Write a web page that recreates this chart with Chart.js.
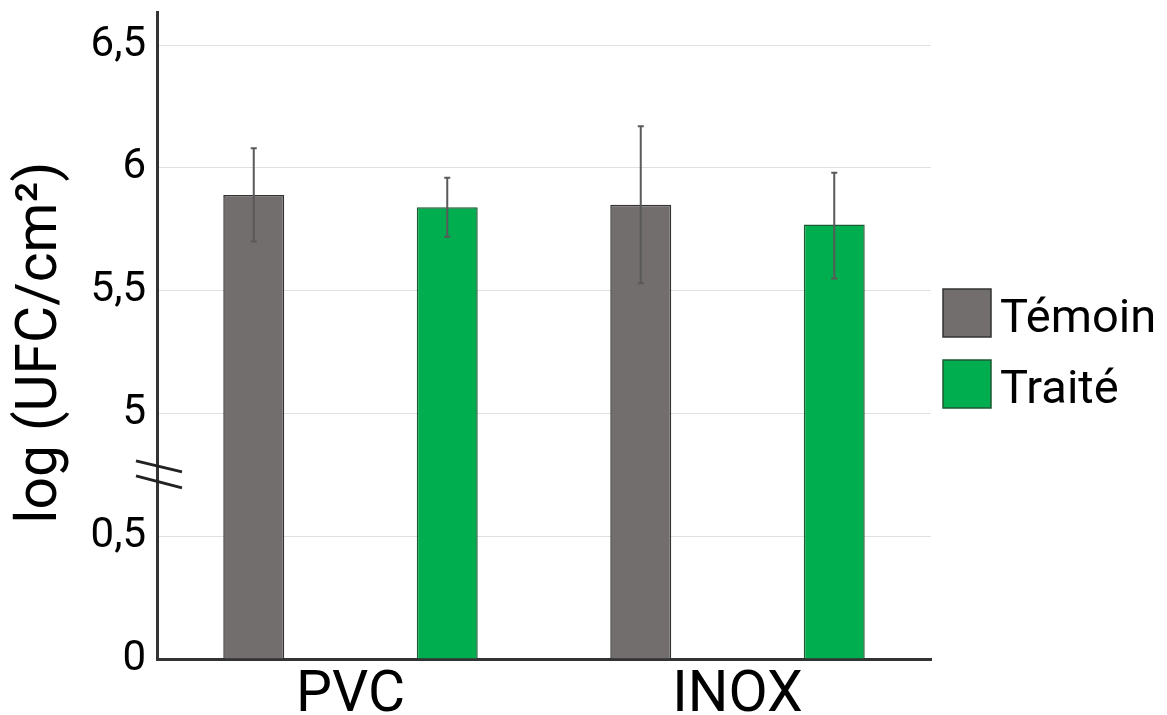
<!DOCTYPE html>
<html>
<head>
<meta charset="utf-8">
<script src="https://cdn.jsdelivr.net/npm/chart.js@4"></script>
<style>
  html, body { margin: 0; padding: 0; background: #fff; }
</style>
</head>
<body>
<canvas id="myChart" width="1167" height="715"></canvas>
<script>
// data
const categories = ['PVC', 'INOX'];
const seriesNames = ['Témoin', 'Traité'];
const temoinMean = [5.89, 5.85];
const traiteMean = [5.84, 5.77];
const temoinLow = [5.70, 5.53];
const temoinHigh = [6.08, 6.17];
const traiteLow = [5.72, 5.55];
const traiteHigh = [5.96, 5.98];
const tickLabels = ['0', '0,5', '5', '5,5', '6', '6,5'];

// broken axis: 0..0.5 then 5..6.5, each 0.5 step takes one unit
function axisPos(v) {
  if (v <= 0.5) return v / 0.5;
  return 2 + (v - 5) / 0.5;
}

const errors = [
  { low: temoinLow, high: temoinHigh },
  { low: traiteLow, high: traiteHigh }
];

const errorBars = {
  id: 'errorBars',
  afterDatasetsDraw(chart) {
    const ctx = chart.ctx;
    const y = chart.scales.y;
    ctx.save();
    ctx.strokeStyle = '#5a5a5a';
    ctx.lineWidth = 2;
    chart.data.datasets.forEach((ds, i) => {
      chart.getDatasetMeta(i).data.forEach((bar, j) => {
        const top = y.getPixelForValue(axisPos(errors[i].high[j]));
        const bot = y.getPixelForValue(axisPos(errors[i].low[j]));
        ctx.beginPath();
        ctx.moveTo(bar.x, top);
        ctx.lineTo(bar.x, bot);
        ctx.moveTo(bar.x - 3, top);
        ctx.lineTo(bar.x + 3, top);
        ctx.moveTo(bar.x - 3, bot);
        ctx.lineTo(bar.x + 3, bot);
        ctx.stroke();
      });
    });
    ctx.restore();
  }
};

const axisBreak = {
  id: 'axisBreak',
  afterDraw(chart) {
    const ctx = chart.ctx;
    const x = chart.chartArea.left;
    const yc = chart.scales.y.getPixelForValue(1.5);
    ctx.save();
    ctx.strokeStyle = '#222';
    ctx.lineWidth = 3;
    ctx.beginPath();
    ctx.moveTo(x - 21, yc - 14);
    ctx.lineTo(x + 25, yc - 3);
    ctx.moveTo(x - 21, yc + 1);
    ctx.lineTo(x + 25, yc + 13);
    ctx.stroke();
    ctx.restore();
  }
};

const sideLegend = {
  id: 'sideLegend',
  afterDraw(chart) {
    const ctx = chart.ctx;
    ctx.save();
    ctx.font = '47px Roboto';
    ctx.textBaseline = 'alphabetic';
    chart.data.datasets.forEach((ds, i) => {
      const top = 289 + i * 71;
      ctx.fillStyle = ds.backgroundColor;
      ctx.fillRect(943, top, 48, 48);
      ctx.strokeStyle = ds.borderColor;
      ctx.lineWidth = 1.5;
      ctx.strokeRect(943, top, 48, 48);
      ctx.fillStyle = '#000';
      ctx.fillText(ds.label, 1000, top + 43);
    });
    ctx.restore();
  }
};

new Chart(document.getElementById('myChart'), {
  type: 'bar',
  data: {
    labels: categories,
    datasets: [
      {
        label: seriesNames[0],
        data: temoinMean.map(axisPos),
        backgroundColor: '#726e6d',
        borderColor: '#333333',
        borderWidth: 1.5
      },
      {
        label: seriesNames[1],
        data: traiteMean.map(axisPos),
        backgroundColor: '#00ad4f',
        borderColor: '#1c5a32',
        borderWidth: 1.5
      }
    ]
  },
  options: {
    responsive: false,
    animation: false,
    layout: { padding: { top: 12, right: 236, left: 0, bottom: 0 } },
    categoryPercentage: 1,
    barPercentage: 0.315,
    plugins: {
      legend: { display: false },
      tooltip: { enabled: false }
    },
    scales: {
      x: {
        grid: { display: false },
        border: { color: '#333', width: 3 },
        ticks: {
          color: '#000',
          padding: -4,
          font: { family: 'Roboto', size: 57 }
        },
        afterFit(s) { s.height = 56; }
      },
      y: {
        min: 0,
        max: 5.27,
        afterBuildTicks(s) {
          s.ticks = tickLabels.map((t, i) => ({ value: i }));
        },
        grid: { color: '#e0e0e0', lineWidth: 1, drawTicks: false },
        border: { color: '#333', width: 3 },
        ticks: {
          color: '#000',
          padding: 11,
          font: { family: 'Roboto', size: 42 },
          callback: (v) => tickLabels[v]
        },
        title: {
          display: true,
          text: 'log (UFC/cm²) ',
          color: '#000',
          padding: { top: 8, bottom: 0 },
          font: { family: 'Roboto', size: 57 }
        },
        afterFit(s) {
          s.width = 157;
          s.paddingTop = 0;
          s.paddingBottom = 0;
        }
      }
    }
  },
  plugins: [errorBars, axisBreak, sideLegend]
});
</script>
</body>
</html>
